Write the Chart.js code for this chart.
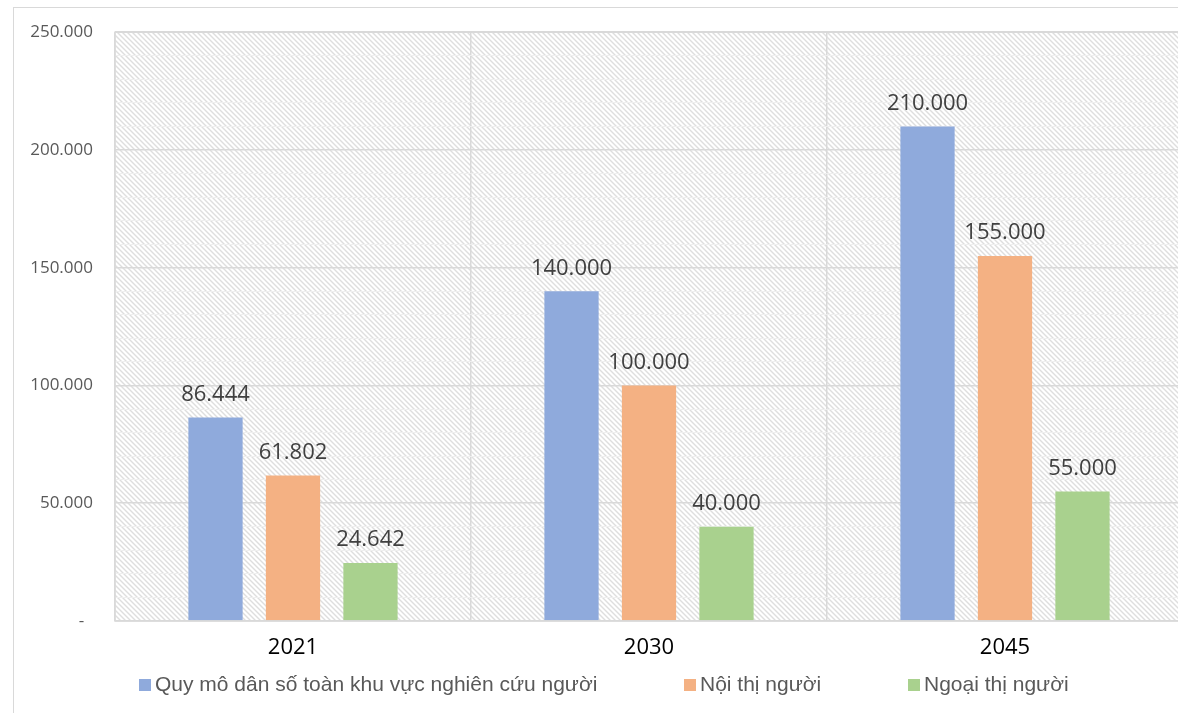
<!DOCTYPE html>
<html>
<head>
<meta charset="utf-8">
<script src="https://cdn.jsdelivr.net/npm/chart.js@4.4.1/dist/chart.umd.min.js"></script>
<style>
  html, body { margin: 0; padding: 0; background: #fff; overflow: hidden; }
  .frame { position: absolute; left: 13px; top: 7px; width: 1200px; height: 740px; border: 1px solid #d9d9d9; }
  .wrap { position: absolute; left: 0; top: 0; width: 1190px; height: 713px; }
</style>
</head>
<body>
<div class="frame"></div>
<div class="wrap"><canvas id="popChart"></canvas></div>
<script>
const years      = ['2021', '2030', '2045'];
const totalPop   = [86444, 140000, 210000];
const innerPop   = [61802, 100000, 155000];
const outerPop   = [24642, 40000, 55000];
const seriesNames = ['Quy mô dân số toàn khu vực nghiên cứu người', 'Nội thị người', 'Ngoại thị người'];
const yTicks     = [0, 50000, 100000, 150000, 200000, 250000];

const colors = { blue: '#8FAADC', orange: '#F4B183', green: '#A9D18E', grid: '#d9d9d9', minor: '#efefef' };
const labelFont = "'Open Sans', 'Noto Sans', sans-serif";
const legendFont = "'Liberation Sans', Arial, sans-serif";

const fmt = v => v === 0 ? '-' : Math.round(v).toLocaleString('de-DE');

function hatchPattern(ctx) {
  const t = document.createElement('canvas');
  t.width = 5; t.height = 5;
  const c = t.getContext('2d');
  c.fillStyle = '#ffffff';
  c.fillRect(0, 0, 5, 5);
  c.strokeStyle = '#dedede';
  c.lineWidth = 1.4;
  c.beginPath();
  c.moveTo(-1, -1); c.lineTo(6, 6);
  c.moveTo(-1, 4); c.lineTo(1, 6);
  c.moveTo(4, -1); c.lineTo(6, 1);
  c.stroke();
  return ctx.createPattern(t, 'repeat');
}

const hatchBg = {
  id: 'hatchBg',
  beforeDraw(chart) {
    const { ctx, chartArea: a } = chart;
    ctx.save();
    ctx.fillStyle = hatchPattern(ctx);
    ctx.fillRect(a.left, a.top, a.right - a.left, a.bottom - a.top);
    ctx.restore();
  },
  afterDatasetsDraw(chart) {
    const { ctx, chartArea: a } = chart;
    ctx.save();
    ctx.strokeStyle = colors.grid;
    ctx.lineWidth = 1.5;
    ctx.strokeRect(a.left, a.top, a.right - a.left, a.bottom - a.top);
    ctx.restore();
  }
};

const valueLabels = {
  id: 'valueLabels',
  afterDatasetsDraw(chart) {
    const { ctx } = chart;
    ctx.save();
    ctx.font = `22px ${labelFont}`;
    ctx.fillStyle = '#404040';
    ctx.textAlign = 'center';
    ctx.textBaseline = 'middle';
    chart.data.datasets.forEach((ds, i) => {
      chart.getDatasetMeta(i).data.forEach((bar, j) => {
        ctx.fillText(fmt(ds.data[j]), bar.x, bar.y - 23);
      });
    });
    ctx.restore();
  }
};

// Excel-style legend with its uneven spacing between entries
const legendStarts = [139, 684, 908];
const bottomLegend = {
  id: 'bottomLegend',
  afterDraw(chart) {
    const { ctx } = chart;
    ctx.save();
    ctx.font = `21px ${legendFont}`;
    ctx.textBaseline = 'middle';
    ctx.textAlign = 'left';
    chart.data.datasets.forEach((ds, i) => {
      const x = legendStarts[i], y = 685;
      ctx.fillStyle = ds.backgroundColor;
      ctx.fillRect(x, y - 6, 12, 12);
      ctx.fillStyle = '#595959';
      ctx.fillText(ds.label, x + 16, y);
    });
    ctx.restore();
  }
};

new Chart(document.getElementById('popChart'), {
  type: 'bar',
  data: {
    labels: years,
    datasets: [
      { label: seriesNames[0], data: totalPop, backgroundColor: colors.blue },
      { label: seriesNames[1], data: innerPop, backgroundColor: colors.orange },
      { label: seriesNames[2], data: outerPop, backgroundColor: colors.green },
    ],
  },
  options: {
    responsive: true,
    maintainAspectRatio: false,
    animation: false,
    datasets: { bar: { categoryPercentage: 0.653, barPercentage: 0.70 } },
    layout: { padding: { top: 31, right: 7, bottom: 46, left: 0 } },
    plugins: {
      tooltip: { enabled: false },
      legend: { display: false },
    },
    scales: {
      x: {
        grid: { color: colors.grid, lineWidth: 1.5, drawTicks: false },
        border: { display: false },
        ticks: { color: '#000', font: { family: labelFont, size: 22 }, padding: 14 },
        afterFit: s => { s.height = 46; },
      },
      y: {
        min: 0, max: 250000,
        afterBuildTicks: s => {
          const t = [];
          for (let v = 0; v <= 250000; v += 10000) t.push({ value: v });
          s.ticks = t;
        },
        grid: {
          drawTicks: false,
          lineWidth: c => (c.tick && c.tick.value % 50000 === 0) ? 1.5 : 1,
          color: c => (c.tick && yTicks.includes(c.tick.value)) ? colors.grid : colors.minor,
        },
        border: { display: false },
        ticks: {
          autoSkip: false,
          color: '#595959',
          font: { family: labelFont, size: 17 },
          padding: 22,
          callback: v => v === 0 ? '-  ' : (yTicks.includes(v) ? fmt(v) : ''),
        },
        afterFit: s => { s.width = 115; },
      },
    },
  },
  plugins: [hatchBg, valueLabels, bottomLegend],
});
</script>
</body>
</html>
